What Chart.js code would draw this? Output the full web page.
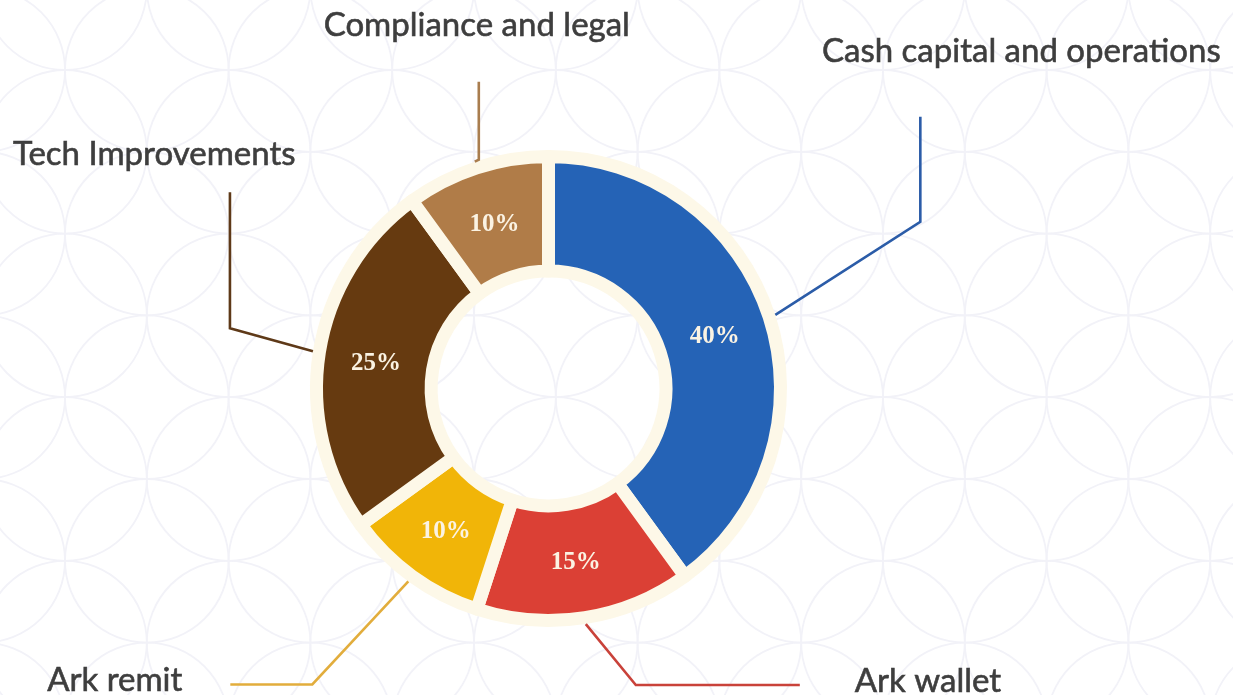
<!DOCTYPE html>
<html><head><meta charset="utf-8">
<script src="https://cdn.jsdelivr.net/npm/chart.js@4.4.1/dist/chart.umd.min.js"></script>
<style>html,body{margin:0;padding:0;background:#fff;overflow:hidden}#wrap{width:1233px;height:695px;position:relative}</style>
</head><body><div id="wrap"><canvas id="c" width="1233" height="695"></canvas></div>
<script>
// ---- data ----
const categories = ['Cash capital and operations', 'Ark wallet', 'Ark remit', 'Tech Improvements', 'Compliance and legal'];
const shares = [40, 15, 10, 25, 10];
const valueLabels = ['40%', '15%', '10%', '25%', '10%'];

// ---- styling / layout ----
const sliceColors = ['#2563b6', '#db4035', '#f1b508', '#663a10', '#b07c48'];
const lineColors = ['#2b5ca8', '#c9423a', '#e2ad3c', '#5e3918', '#a97d4e'];
const cream = '#fdf8e8';
const ringWidth = 13;
// leader polylines: relative steps from the slice edge
const leaderSteps = [
  [[145, -93], [0, -105]],
  [[50, 61], [164, 0]],
  [[-96, 103], [-82, 0]],
  [[-83, -23], [0, -136]],
  [[4, -2], [0, -78]]
];
// label anchor offset from the leader end, and alignment
const labelPlace = [
  {dx: 101, dy: -55, align: 'center'},
  {dx: 55, dy: 7, align: 'left'},
  {dx: -48, dy: 7, align: 'right'},
  {dx: -217, dy: -27, align: 'left'},
  {dx: -2, dy: -46, align: 'center'}
];

const backgroundPattern = {
  id: 'bgPattern',
  beforeDraw(chart) {
    const ctx = chart.ctx, W = chart.width, H = chart.height;
    ctx.save();
    ctx.fillStyle = '#ffffff';
    ctx.fillRect(0, 0, W, H);
    const s = 81.8, ox = 65, oy = 70;
    ctx.strokeStyle = '#f2f2f8';
    ctx.lineWidth = 1.8;
    for (let i = -2; i < 18; i++) {
      for (let j = -2; j < 12; j++) {
        if (((i + j) % 2 + 2) % 2 !== 1) continue;
        ctx.beginPath();
        ctx.arc(ox + i * s, oy + j * s, s, 0, Math.PI * 2);
        ctx.stroke();
      }
    }
    ctx.restore();
  }
};

const labelsPlugin = {
  id: 'labelsPlugin',
  afterDatasetsDraw(chart) {
    const ctx = chart.ctx;
    const meta = chart.getDatasetMeta(0);
    meta.data.forEach((arc, i) => {
      const p = arc.getProps(['x', 'y', 'startAngle', 'endAngle', 'outerRadius', 'innerRadius'], true);
      const mid = (p.startAngle + p.endAngle) / 2;
      // inner value label
      const c = arc.tooltipPosition(true);
      ctx.save();
      ctx.font = 'bold 25px "Liberation Serif", serif';
      ctx.fillStyle = '#fbf3e3';
      ctx.textAlign = 'center';
      ctx.textBaseline = 'middle';
      ctx.fillText(valueLabels[i], c.x, c.y + 2);
      ctx.restore();
      // leader line
      const r0 = p.outerRadius + ringWidth / 2;
      let x = p.x + Math.cos(mid) * r0, y = p.y + Math.sin(mid) * r0;
      ctx.save();
      ctx.strokeStyle = lineColors[i];
      ctx.lineWidth = 2.6;
      ctx.lineJoin = 'miter';
      ctx.beginPath();
      ctx.moveTo(x, y);
      leaderSteps[i].forEach(st => { x += st[0]; y += st[1]; ctx.lineTo(x, y); });
      ctx.stroke();
      ctx.restore();
      // category label
      const lp = labelPlace[i];
      ctx.save();
      ctx.font = '33px Lato, sans-serif';
      ctx.fillStyle = '#3e3e3e';
      ctx.strokeStyle = '#3e3e3e';
      ctx.lineWidth = 0.6;
      ctx.textAlign = lp.align;
      ctx.textBaseline = 'alphabetic';
      ctx.fillText(categories[i], x + lp.dx, y + lp.dy);
      ctx.strokeText(categories[i], x + lp.dx, y + lp.dy);
      ctx.restore();
    });
  }
};

new Chart(document.getElementById('c'), {
  type: 'doughnut',
  data: {
    labels: categories,
    datasets: [{
      data: shares,
      backgroundColor: sliceColors,
      borderColor: cream,
      borderWidth: ringWidth,
      borderJoinStyle: 'round',
      hoverOffset: 0
    }]
  },
  options: {
    responsive: false,
    devicePixelRatio: 1,
    animation: false,
    events: [],
    cutout: '50.6%',
    layout: {padding: {left: 310, right: 446, top: 150, bottom: 68}},
    plugins: {legend: {display: false}, tooltip: {enabled: false}}
  },
  plugins: [backgroundPattern, labelsPlugin]
});
</script>
</body></html>
